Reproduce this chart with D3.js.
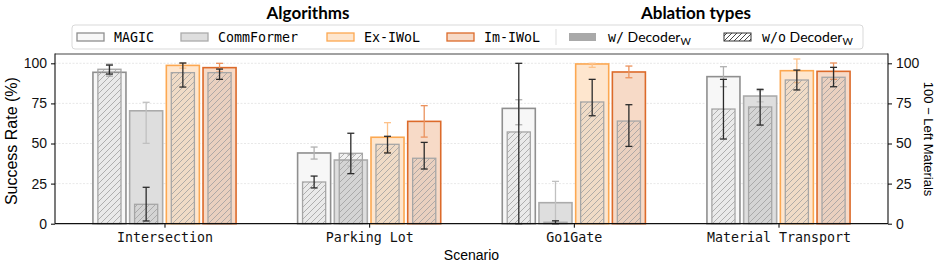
<!DOCTYPE html>
<html>
<head>
<meta charset="utf-8">
<script src="https://cdn.jsdelivr.net/npm/d3@7"></script>
<style>
  body { margin: 0; background: #fff; }
  svg { display: block; }
</style>
</head>
<body>
<div id="chart"></div>
<script>
// data
const scenarios = ['Intersection', 'Parking Lot', 'Go1Gate', 'Material Transport']
const algorithms = ['MAGIC', 'CommFormer', 'Ex-IWoL', 'Im-IWoL']
const yTicks = [0, 25, 50, 75, 100]

// w/ Decoder_W (outer bars), one row per algorithm
const withDec = [
  [94.4, 44.1, 71.9, 91.7],
  [70.4, 39.7, 13.1, 79.6],
  [98.7, 53.9, 99.6, 95.4],
  [97.3, 63.8, 94.6, 95.0]
]
const withLo = [
  [92.0, 40.3, 61.7, 85.4],
  [50.1, 36.0, 0.0, 76.0],
  [97.0, 44.5, 97.5, 88.0],
  [94.5, 54.0, 91.0, 90.0]
]
const withHi = [
  [99.5, 47.8, 77.3, 97.9],
  [75.7, 43.0, 26.4, 83.0],
  [100.0, 63.0, 100.0, 102.7],
  [100.0, 73.6, 98.3, 100.2]
]
// w/o Decoder_W (inner hatched bars)
const withoutDec = [
  [96.3, 26.0, 57.2, 71.5],
  [12.1, 43.9, 0.9, 72.8],
  [94.2, 49.5, 75.9, 89.6],
  [94.2, 40.8, 64.0, 91.3]
]
const withoutLo = [
  [93.3, 22.3, 0.0, 52.8],
  [1.7, 31.2, 0.0, 61.5],
  [85.2, 44.1, 67.3, 83.4],
  [90.0, 34.1, 48.2, 85.4]
]
const withoutHi = [
  [98.9, 29.7, 100.0, 90.0],
  [22.7, 56.4, 1.8, 83.8],
  [100.2, 54.5, 90.0, 95.8],
  [96.4, 50.7, 74.2, 97.5]
]

const fills = ['#f7f7f7', '#dedede', '#fee6ce', '#f7dac7']
const strokes = ['#8f8f8f', '#ababab', '#fca851', '#dc6a2a']
const errLight = ['#b0b0b0', '#c0c0c0', '#fdc28a', '#eb925d']

// canvas
const width = 948, height = 268
const pLeft = 55, pRight = 888, pTop = 54.5, pBottom = 223.7

const svg = d3.select('#chart').append('svg')
  .attr('width', width)
  .attr('height', height)
  .style('font-family', 'Liberation Sans, Arial, sans-serif')

// hatch patterns
const defs = svg.append('defs')
defs.append('pattern')
  .attr('id', 'hatch')
  .attr('patternUnits', 'userSpaceOnUse')
  .attr('width', 6).attr('height', 6)
  .append('path')
  .attr('d', 'M-1,1 l2,-2 M0,6 l6,-6 M5,7 l2,-2')
  .attr('stroke', '#a0a0a0')
  .attr('stroke-width', 0.8)
defs.append('pattern')
  .attr('id', 'hatchDark')
  .attr('patternUnits', 'userSpaceOnUse')
  .attr('width', 5).attr('height', 5)
  .append('path')
  .attr('d', 'M-1,1 l2,-2 M0,5 l5,-5 M4,6 l2,-2')
  .attr('stroke', '#333')
  .attr('stroke-width', 0.9)

const x = d3.scalePoint().domain(scenarios).range([pLeft, pRight]).padding(0.535)
const xs = d3.scaleBand().domain(algorithms).range([-73.4, 73.4]).paddingInner(0.1).paddingOuter(0.05)
const y = d3.scaleLinear().domain([0, 105.5]).range([pBottom, pTop])

// grid
svg.append('g')
  .selectAll('line')
  .data(yTicks.slice(1))
  .enter()
  .append('line')
  .attr('x1', pLeft).attr('x2', pRight)
  .attr('y1', d => y(d)).attr('y2', d => y(d))
  .attr('stroke', '#e2e2e2')
  .attr('stroke-width', 0.8)
  .attr('stroke-dasharray', '2,1.5')

const bw = xs.bandwidth()
const iw = bw * 0.7

const errbar = (g, cx, lo, hi, color, cap) => {
  g.append('line').attr('x1', cx).attr('x2', cx).attr('y1', y(lo)).attr('y2', y(hi))
    .attr('stroke', color).attr('stroke-width', 1.3)
  ;[lo, hi].forEach(v => {
    g.append('line').attr('x1', cx - cap).attr('x2', cx + cap).attr('y1', y(v)).attr('y2', y(v))
      .attr('stroke', color).attr('stroke-width', 1.3)
  })
}

const bars = svg.append('g')
algorithms.forEach((alg, a) => {
  scenarios.forEach((sc, s) => {
    const g = bars.append('g')
    const x0 = x(sc) + xs(alg)
    const cx = x0 + bw / 2
    // outer bar
    g.append('rect')
      .attr('x', x0).attr('y', y(withDec[a][s]))
      .attr('width', bw).attr('height', y(0) - y(withDec[a][s]))
      .attr('fill', fills[a]).attr('stroke', strokes[a]).attr('stroke-width', 1.6)
    errbar(g, cx, withLo[a][s], withHi[a][s], errLight[a], 3.5)
    // inner hatched bar
    g.append('rect')
      .attr('x', cx - iw / 2).attr('y', y(withoutDec[a][s]))
      .attr('width', iw).attr('height', y(0) - y(withoutDec[a][s]))
      .attr('fill', 'rgba(140,140,140,0.12)')
    g.append('rect')
      .attr('x', cx - iw / 2).attr('y', y(withoutDec[a][s]))
      .attr('width', iw).attr('height', y(0) - y(withoutDec[a][s]))
      .attr('fill', 'url(#hatch)').attr('stroke', '#a6a6a6').attr('stroke-width', 1.3)
    errbar(g, cx, withoutLo[a][s], withoutHi[a][s], '#2b2b2b', 3.5)
  })
})

// frame
svg.append('line').attr('x1', pLeft).attr('x2', pRight).attr('y1', pTop - 0.5).attr('y2', pTop - 0.5)
  .attr('stroke', '#444').attr('stroke-width', 1.2)

// axes
const leftAxis = svg.append('g')
  .attr('transform', `translate(${pLeft},0)`)
  .call(d3.axisLeft(y).tickValues(yTicks).tickSize(4).tickPadding(4))
const rightAxis = svg.append('g')
  .attr('transform', `translate(${pRight},0)`)
  .call(d3.axisRight(y).tickValues(yTicks).tickSize(4).tickPadding(4))
const bottomAxis = svg.append('g')
  .attr('transform', `translate(0,${pBottom})`)
  .call(d3.axisBottom(x).tickSize(4).tickPadding(5))

;[leftAxis, rightAxis].forEach(ax => {
  ax.selectAll('text').attr('font-size', 14).attr('fill', '#111')
    .attr('font-family', 'Liberation Sans, Arial, sans-serif')
  ax.select('.domain').attr('d', `M0,${pTop - 1}V${pBottom}`).attr('stroke', '#222').attr('stroke-width', 1.2)
})
bottomAxis.selectAll('text').attr('font-size', 13.3).attr('fill', '#111')
  .attr('font-family', 'DejaVu Sans Mono, monospace')
bottomAxis.select('.domain').attr('d', `M${pLeft},0H${pRight}`).attr('stroke', '#111').attr('stroke-width', 1.3)

// axis titles
svg.append('text')
  .attr('transform', `translate(17,${(pTop + pBottom) / 2 + 2}) rotate(-90)`)
  .attr('text-anchor', 'middle')
  .attr('font-size', 16)
  .text('Success Rate (%)')
svg.append('text')
  .attr('transform', `translate(924,${(pTop + pBottom) / 2}) rotate(90)`)
  .attr('text-anchor', 'middle')
  .attr('font-size', 13)
  .text('100 − Left Materials')
svg.append('text')
  .attr('x', (pLeft + pRight) / 2).attr('y', 260)
  .attr('text-anchor', 'middle')
  .attr('font-size', 14)
  .text('Scenario')

// legend
const lg = svg.append('g')
lg.append('rect')
  .attr('x', 72).attr('y', 25).attr('width', 791).attr('height', 24).attr('rx', 3)
  .attr('fill', '#fff').attr('stroke', '#d9d9d9').attr('stroke-width', 1)
lg.append('text').attr('x', 308).attr('y', 19).attr('text-anchor', 'middle')
  .attr('font-family', 'Lato, sans-serif').attr('font-weight', 'bold').attr('font-size', 17)
  .text('Algorithms')
lg.append('text').attr('x', 696).attr('y', 19).attr('text-anchor', 'middle')
  .attr('font-family', 'Lato, sans-serif').attr('font-weight', 'bold').attr('font-size', 17)
  .text('Ablation types')

const legendPos = [77, 181, 327, 447]
algorithms.forEach((alg, a) => {
  lg.append('rect').attr('x', legendPos[a]).attr('y', 33).attr('width', 27).attr('height', 8)
    .attr('fill', fills[a]).attr('stroke', strokes[a]).attr('stroke-width', 1.3)
  lg.append('text').attr('x', legendPos[a] + 37).attr('y', 42)
    .attr('font-family', 'DejaVu Sans Mono, monospace').attr('font-size', 13.3)
    .text(alg)
})
lg.append('line').attr('x1', 556).attr('x2', 556).attr('y1', 29).attr('y2', 45)
  .attr('stroke', '#ddd').attr('stroke-width', 1)

lg.append('rect').attr('x', 569).attr('y', 33).attr('width', 27).attr('height', 8)
  .attr('fill', '#a9a9a9')
lg.append('rect').attr('x', 724).attr('y', 33).attr('width', 27).attr('height', 8)
  .attr('fill', 'url(#hatchDark)').attr('stroke', '#333').attr('stroke-width', 1)

const decLabel = (xx, pre) => {
  const t = lg.append('text').attr('x', xx).attr('y', 42)
    .attr('font-family', 'Lato, sans-serif').attr('font-size', 14)
  t.append('tspan').attr('font-family', 'DejaVu Sans Mono, monospace').attr('font-size', 13.3).text(pre)
  t.append('tspan').text(' Decoder')
  t.append('tspan').attr('font-size', 10).attr('dy', 3).text('W')
}
decLabel(608, 'w/')
decLabel(762, 'w/o')
</script>
</body>
</html>
